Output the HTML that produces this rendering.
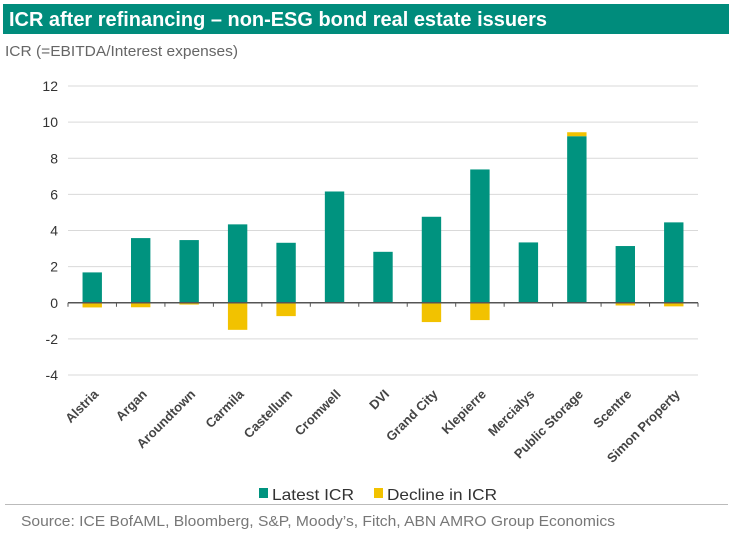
<!DOCTYPE html>
<html><head><meta charset="utf-8">
<style>
html,body{margin:0;padding:0;background:#fff;}
svg{display:block;font-family:"Liberation Sans",Arial,sans-serif;}
</style></head>
<body>
<svg id="chart" width="732" height="536" viewBox="0 0 732 536">
  <rect x="3" y="4" width="726" height="30" fill="#008C7C"/>
  <text x="9" y="26" fill="#fff" font-size="20" font-weight="bold" textLength="538" lengthAdjust="spacingAndGlyphs">ICR after refinancing – non-ESG bond real estate issuers</text>
  <text x="5" y="56" fill="#666" font-size="15" textLength="233" lengthAdjust="spacingAndGlyphs">ICR (=EBITDA/Interest expenses)</text>
  <g id="grid"></g>
  <g id="bars"></g>
  <g id="axis"></g>
  <g id="xlabels"></g>
  <g>
    <rect x="259" y="488" width="9" height="10" fill="#00937F"/>
    <text x="272" y="500" font-size="16" fill="#333" textLength="82" lengthAdjust="spacingAndGlyphs">Latest ICR</text>
    <rect x="374" y="488" width="9" height="10" fill="#F2C200"/>
    <text x="387" y="500" font-size="16" fill="#333" textLength="110" lengthAdjust="spacingAndGlyphs">Decline in ICR</text>
  </g>
  <line x1="5" y1="504.5" x2="728" y2="504.5" stroke="#bbb" stroke-width="1"/>
  <text x="21" y="526" font-size="15" fill="#777" textLength="594" lengthAdjust="spacingAndGlyphs">Source: ICE BofAML, Bloomberg, S&amp;P, Moody’s, Fitch, ABN AMRO Group Economics</text>
</svg>
<script>
const categories = ["Alstria","Argan","Aroundtown","Carmila","Castellum","Cromwell","DVI","Grand City","Klepierre","Mercialys","Public Storage","Scentre","Simon Property"];
const latestICR = [1.68,3.58,3.47,4.34,3.32,6.16,2.82,4.76,7.38,3.34,9.22,3.14,4.45];
const declineICR = [-0.26,-0.25,-0.1,-1.5,-0.74,0,0,-1.07,-0.96,0,0.22,-0.15,-0.2];
const yTicks = [-4,-2,0,2,4,6,8,10,12];

const NS = "http://www.w3.org/2000/svg";
const plotL = 68, plotR = 698, yTop = 86, yBot = 375;
const yMin = -4, yMax = 12;
function y(v){ return yBot - (v - yMin) / (yMax - yMin) * (yBot - yTop); }
const band = (plotR - plotL) / categories.length;
function xc(i){ return plotL + band * (i + 0.5); }
const barW = band * 0.4;
function mk(tag, attrs, parent){
  const e = document.createElementNS(NS, tag);
  for (const k in attrs) e.setAttribute(k, attrs[k]);
  parent.appendChild(e);
  return e;
}
const grid = document.getElementById("grid");
yTicks.forEach(t => {
  if (t !== 0) {
    const l = mk("line", {x1: plotL, x2: plotR, y1: y(t), y2: y(t), stroke: "#d9d9d9", "stroke-width": 1}, grid);
    
    
  }
  const tx = mk("text", {x: 58, y: y(t) + 5, "text-anchor": "end", "font-size": 14, fill: "#333"}, grid);
  tx.textContent = t;
  
  
});
const bars = document.getElementById("bars");
categories.forEach((c, i) => {
  const v = latestICR[i];
  const r = mk("rect", {x: xc(i) - barW/2, y: Math.min(y(v), y(0)), width: barW, height: Math.abs(y(v) - y(0)), fill: "#00937F"}, bars);
  
  
  const d = declineICR[i];
  if (d !== 0) {
    let y1, y2;
    if (d > 0) { y1 = y(v + d); y2 = y(v); } else { y1 = y(0); y2 = y(d); }
    const r2 = mk("rect", {x: xc(i) - barW/2, y: y1, width: barW, height: y2 - y1, fill: "#F2C200"}, bars);
    
    
  }
});
const axis = document.getElementById("axis");
const ax = mk("line", {x1: plotL, x2: plotR, y1: y(0), y2: y(0), stroke: "#555", "stroke-width": 1.5}, axis);


for (let i = 0; i <= categories.length; i++) {
  const tk = mk("line", {x1: plotL + band*i, x2: plotL + band*i, y1: y(0), y2: y(0) + 4, stroke: "#555", "stroke-width": 1}, axis);
  
  
}
const xl = document.getElementById("xlabels");
categories.forEach((c, i) => {
  const ex = xc(i) + 7, ey = 395;
  const t = mk("text", {x: ex, y: ey, "text-anchor": "end", "font-size": 13, "font-weight": "bold", fill: "#444", transform: "rotate(-45 " + ex + " " + ey + ")"}, xl);
  t.textContent = c;
  
  
});
</script>
</body></html>
